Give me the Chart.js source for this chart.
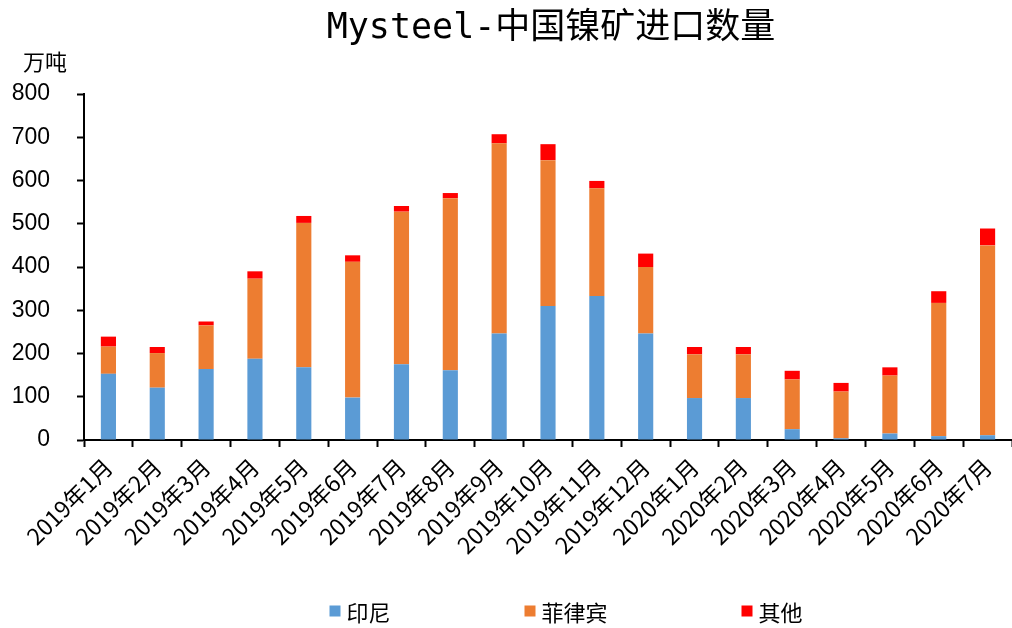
<!DOCTYPE html>
<html>
<head>
<meta charset="utf-8">
<script src="https://cdn.jsdelivr.net/npm/chart.js@4"></script>
<style>
  body { margin: 0; background: #fff; }
  #wrap { width: 1012px; height: 628px; position: relative; }
</style>
</head>
<body>
<div id="wrap"><canvas id="chart"></canvas></div>
<script>
// ---------- Dados ----------
const months = ["2019年1月", "2019年2月", "2019年3月", "2019年4月", "2019年5月", "2019年6月",
  "2019年7月", "2019年8月", "2019年9月", "2019年10月", "2019年11月", "2019年12月",
  "2020年1月", "2020年2月", "2020年3月", "2020年4月", "2020年5月", "2020年6月", "2020年7月"];

const indonesia = [153, 121, 164, 188, 168, 98, 175, 161, 246, 310, 333, 246, 97, 97, 25, 4, 15, 9, 11];
const philippines = [63, 80, 101, 185, 334, 314, 353, 398, 440, 337, 249, 154, 101, 101, 115, 108, 134, 308, 439];
const others = [23, 14, 9, 17, 16, 15, 13, 12, 21, 37, 17, 31, 17, 17, 20, 20, 19, 27, 39];

const yTicks = [0, 100, 200, 300, 400, 500, 600, 700, 800];

const cjk = '"Noto Sans CJK SC", sans-serif';

// ---------- Título, unidade e legenda ----------
const decorPlugin = {
  id: 'decorPlugin',
  afterDraw(chart) {
    const ctx = chart.ctx;
    const area = chart.chartArea;
    const mid = (area.left + area.right) / 2;
    ctx.save();
    ctx.fillStyle = '#000';
    ctx.textBaseline = 'middle';
    ctx.textAlign = 'center';
    ctx.font = '35px "DejaVu Sans Mono", "Noto Sans CJK SC", monospace';
    ctx.fillText('Mysteel-中国镍矿进口数量', mid + 3, 29);

    ctx.textAlign = 'left';
    ctx.font = '22px ' + cjk;
    ctx.fillText('万吨', 23, 62);

    // legenda
    const box = 11, gap = 134, textGap = 6;
    ctx.font = '22px ' + cjk;
    const items = chart.data.datasets.map(ds => ({
      text: ds.label, color: ds.backgroundColor,
      w: box + textGap + ctx.measureText(ds.label).width
    }));
    const total = items.reduce((s, it) => s + it.w, 0) + gap * (items.length - 1);
    let x = mid + 18 - total / 2;
    const y = 613;
    items.forEach(it => {
      ctx.fillStyle = it.color;
      ctx.fillRect(x, y - box / 2 - 2, box, box);
      ctx.fillStyle = '#000';
      ctx.fillText(it.text, x + box + textGap, y);
      x += it.w + gap;
    });
    ctx.restore();
  }
};

new Chart(document.getElementById('chart'), {
  type: 'bar',
  data: {
    labels: months,
    datasets: [
      { label: '印尼', data: indonesia, backgroundColor: '#5B9BD5' },
      { label: '菲律宾', data: philippines, backgroundColor: '#ED7D31' },
      { label: '其他', data: others, backgroundColor: '#FF0000' }
    ]
  },
  options: {
    responsive: true,
    maintainAspectRatio: false,
    animation: false,
    layout: { padding: { top: 94, right: 0, left: 10, bottom: 60 } },
    datasets: { bar: { categoryPercentage: 1, barPercentage: 0.31 } },
    plugins: {
      legend: { display: false },
      tooltip: { enabled: false }
    },
    scales: {
      x: {
        stacked: true,
        grid: { drawOnChartArea: false, tickLength: 7, tickColor: '#000', tickWidth: 2 },
        border: { color: '#000', width: 2 },
        afterFit(axis) { axis.paddingLeft = 0; axis.paddingRight = 0; axis.height = 128; },
        ticks: {
          color: '#000', maxRotation: 45, minRotation: 45, autoSkip: false, padding: 6,
          font: { family: cjk, size: 23 }
        }
      },
      y: {
        stacked: true,
        min: 0, max: 800,
        afterBuildTicks(axis) { axis.ticks = yTicks.map(v => ({ value: v })); },
        afterFit(axis) { axis.width = 74; },
        grid: { drawOnChartArea: false, tickLength: 7, tickColor: '#000', tickWidth: 2 },
        border: { color: '#000', width: 2 },
        ticks: {
          color: '#000', padding: 27,
          font: { family: '"Liberation Sans", Arial, sans-serif', size: 23 }
        }
      }
    }
  },
  plugins: [decorPlugin]
});
</script>
</body>
</html>
